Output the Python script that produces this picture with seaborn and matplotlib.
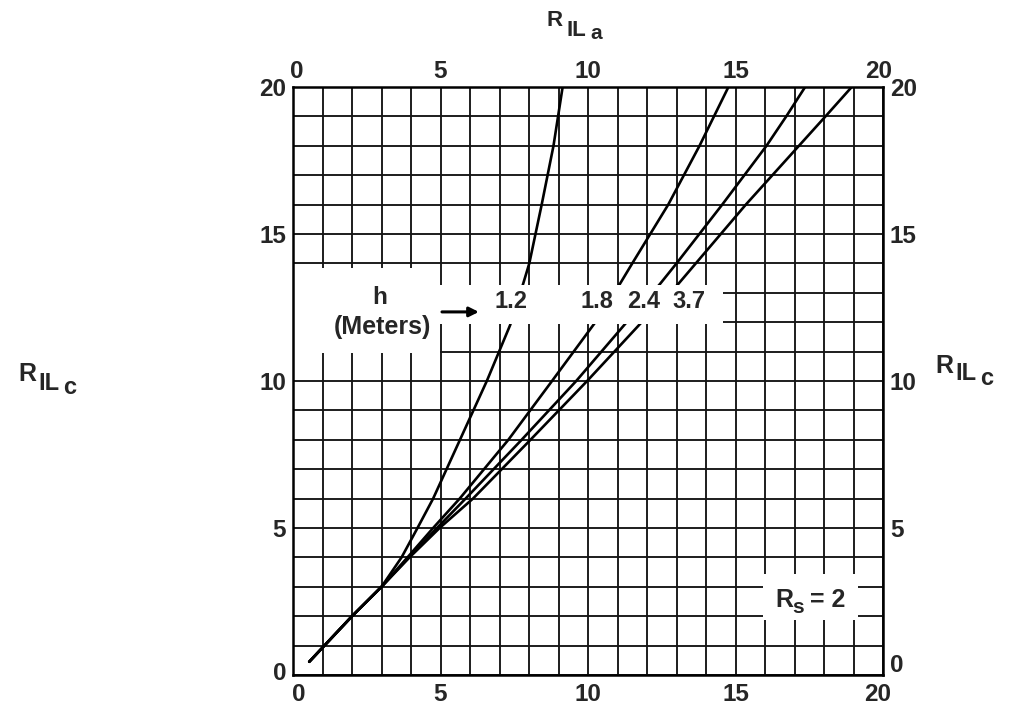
import matplotlib
matplotlib.use("Agg")
import matplotlib.pyplot as plt
import numpy as np
import pandas as pd
import seaborn as sns
from matplotlib.patches import Rectangle
from matplotlib.transforms import ScaledTranslation

# Antenna heights h (meters) and the R_ILa / R_ILc pairs
heights = ["1.2", "1.8", "2.4", "3.7"]

ril_a_12 = [0.55, 2, 3, 3.68, 4.22, 4.75, 5.66, 6.57, 7.36, 7.80, 8.01, 8.43, 8.83, 9.14]
ril_c_12 = [0.45, 2, 3, 4.00, 5.00, 6.00, 8.00, 10.0, 11.9, 13.3, 14.0, 16.0, 18.0, 20.0]

ril_a_18 = [0.55, 2, 3, 3.88, 4.75, 5.65, 7.30, 8.78, 10.25, 11.08, 11.50, 12.72, 13.78, 14.76]
ril_c_18 = [0.45, 2, 3, 4.00, 5.00, 6.00, 8.00, 10.0, 12.00, 13.30, 14.00, 16.00, 18.00, 20.00]

ril_a_24 = [0.55, 2, 3, 3.92, 4.88, 5.85, 7.75, 9.60, 11.31, 12.44, 13.00, 14.55, 16.05, 16.72, 17.36]
ril_c_24 = [0.45, 2, 3, 4.00, 5.00, 6.00, 8.00, 10.0, 12.00, 13.30, 14.00, 16.00, 18.00, 19.00, 20.00]

ril_a_37 = [0.55, 2, 3, 3.95, 4.97, 6.10, 8.05, 9.97, 11.82, 13.06, 15.35, 17.15, 18.05, 18.94]
ril_c_37 = [0.45, 2, 3, 4.00, 5.00, 6.00, 8.00, 10.0, 12.00, 13.30, 16.00, 18.00, 19.00, 20.00]

ticks = [0, 5, 10, 15, 20]
rs_label = "2"

curves = {
    "1.2": (ril_a_12, ril_c_12),
    "1.8": (ril_a_18, ril_c_18),
    "2.4": (ril_a_24, ril_c_24),
    "3.7": (ril_a_37, ril_c_37),
}
df = pd.concat(
    [pd.DataFrame({"a": a, "c": c, "h": h}) for h, (a, c) in curves.items()],
    ignore_index=True,
)

sns.set_style("white")
plt.rcParams["font.family"] = ["Liberation Sans", "DejaVu Sans"]
plt.rcParams["font.weight"] = "bold"

fig = plt.figure(figsize=(10.19, 7.08), dpi=100)
W, H = 1019, 708
ax = fig.add_axes([293 / W, 1 - 675 / H, (883 - 293) / W, (675 - 87) / H])

sns.lineplot(
    data=df, x="a", y="c", hue="h", hue_order=heights,
    palette={h: "black" for h in heights}, linewidth=1.9,
    legend=False, estimator=None, sort=True, ax=ax, zorder=2,
)

ax.set_xlim(0, 20)
ax.set_ylim(0, 20)
ax.set_xticks(ticks)
ax.set_yticks(ticks)
ax.set_xticks(np.arange(0, 21, 1), minor=True)
ax.set_yticks(np.arange(0, 21, 1), minor=True)
ax.set_xticklabels([str(t) for t in ticks])
ax.set_yticklabels([str(t) for t in ticks])
ax.set_axisbelow(True)
ax.grid(True, which="both", color="#151515", linewidth=1.35)
ax.tick_params(which="both", length=0, labelsize=17.5,
               top=True, right=True, labeltop=True, labelright=True)
ax.tick_params(axis="x", which="major", pad=6)
ax.tick_params(axis="y", which="major", pad=5)
for lab in ax.get_xticklabels() + ax.get_yticklabels():
    lab.set_fontweight("bold")
ax.set_xlabel("")
ax.set_ylabel("")
for sp in ax.spines.values():
    sp.set_color("black")
    sp.set_linewidth(1.8)
    sp.set_zorder(6)

# White label panels over the grid
ax.add_patch(Rectangle((0.05, 10.95), 4.93, 2.9, facecolor="white",
                       edgecolor="none", zorder=3))
ax.add_patch(Rectangle((4.98, 11.95), 9.6, 1.32, facecolor="white",
                       edgecolor="none", zorder=3))
ax.add_patch(Rectangle((15.93, 1.87), 3.22, 1.55, facecolor="white",
                       edgecolor="none", zorder=3))

# Curve labels
label_x = [7.39, 10.31, 11.9, 13.42]
for h, x in zip(heights, label_x):
    ax.text(x, 12.69, h, ha="center", va="center", fontsize=17,
            fontweight="bold", zorder=4)
ax.text(2.95, 12.85, "h", ha="center", va="center", fontsize=17.5,
        fontweight="bold", zorder=4)
ax.text(3.02, 11.82, "(Meters)", ha="center", va="center", fontsize=18,
        fontweight="bold", zorder=4)
ax.annotate("", xy=(6.3, 12.35), xytext=(5.05, 12.35),
            arrowprops=dict(arrowstyle="-|>", color="black", lw=2.2,
                            mutation_scale=14, shrinkA=0, shrinkB=0),
            zorder=4)


def fig_text(px, py, s, size):
    fig.text(px / W, 1 - py / H, s, fontsize=size, fontweight="bold",
             ha="left", va="baseline")


# R_s = 2 annotation
fig_text(775, 607, "R", 18)
fig_text(792, 613, "s", 15)
fig_text(810, 607, "= " + rs_label, 18)

# Axis titles: R_ILa on top, R_ILc on both sides
fig_text(547, 26, "R", 16)
fig_text(566, 36, "IL", 16)
fig_text(590, 39, "a", 15)

fig_text(18, 381, "R", 18)
fig_text(38, 390, "IL", 17)
fig_text(63, 394, "c", 17)

fig_text(935, 373, "R", 18)
fig_text(955, 380, "IL", 17)
fig_text(980, 385, "c", 17)


def nudge(label, dx_px, dy_px):
    label.set_transform(label.get_transform() +
                        ScaledTranslation(dx_px / 100, dy_px / 100,
                                          fig.dpi_scale_trans))


fig.canvas.draw()
xt = ax.xaxis.get_major_ticks()
yt = ax.yaxis.get_major_ticks()
for t in xt:
    nudge(t.label2, 0, -4)
nudge(xt[0].label1, 6, 0)
nudge(xt[-1].label1, -5, 0)
nudge(xt[0].label2, 4, 0)
nudge(xt[-1].label2, -4, 0)
nudge(yt[0].label1, 0, 4)
nudge(yt[0].label2, 0, 12)

fig.savefig("out.png", dpi=100, facecolor="white")
